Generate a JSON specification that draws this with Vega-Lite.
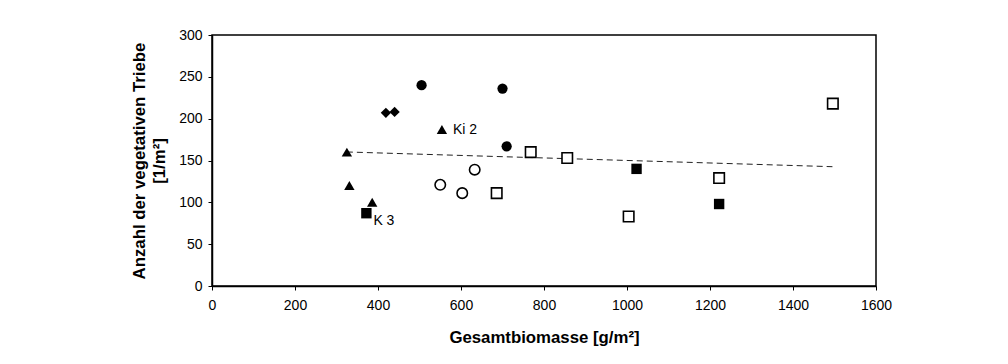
{
  "$schema": "https://vega.github.io/schema/vega-lite/v6.json",
  "width": 664,
  "height": 251,
  "autosize": "none",
  "padding": {"left": 212, "top": 35, "right": 132, "bottom": 78},
  "background": "white",
  "config": {
    "font": "Liberation Sans",
    "view": {"stroke": "black", "strokeWidth": 1.5},
    "axis": {
      "grid": false,
      "domainColor": "black",
      "domainWidth": 1.5,
      "tickColor": "black",
      "tickWidth": 1,
      "tickSize": 4,
      "labelFont": "Liberation Sans",
      "labelFontSize": 14,
      "labelColor": "black",
      "titleFont": "Liberation Sans",
      "titleFontSize": 16.8,
      "titleFontWeight": "bold",
      "titleColor": "black",
      "format": "d"
    }
  },
  "datasets": {
    "points": [
      {"group": "Gruppe 1", "biomasse": 505, "triebe": 240, "label": ""},
      {"group": "Gruppe 1", "biomasse": 700, "triebe": 236, "label": ""},
      {"group": "Gruppe 1", "biomasse": 710, "triebe": 167, "label": ""},
      {"group": "Gruppe 2", "biomasse": 419, "triebe": 207, "label": ""},
      {"group": "Gruppe 2", "biomasse": 440, "triebe": 208, "label": ""},
      {"group": "Gruppe 3", "biomasse": 325, "triebe": 160, "label": ""},
      {"group": "Gruppe 3", "biomasse": 331, "triebe": 120, "label": ""},
      {"group": "Gruppe 3", "biomasse": 386, "triebe": 100, "label": ""},
      {"group": "Gruppe 3", "biomasse": 554, "triebe": 187, "label": "Ki 2"},
      {"group": "Gruppe 4", "biomasse": 372, "triebe": 87, "label": "K 3"},
      {"group": "Gruppe 4", "biomasse": 1023, "triebe": 140, "label": ""},
      {"group": "Gruppe 4", "biomasse": 1222, "triebe": 98, "label": ""},
      {"group": "Gruppe 5", "biomasse": 550, "triebe": 121, "label": ""},
      {"group": "Gruppe 5", "biomasse": 603, "triebe": 111, "label": ""},
      {"group": "Gruppe 5", "biomasse": 633, "triebe": 139, "label": ""},
      {"group": "Gruppe 6", "biomasse": 686, "triebe": 111, "label": ""},
      {"group": "Gruppe 6", "biomasse": 768, "triebe": 160, "label": ""},
      {"group": "Gruppe 6", "biomasse": 856, "triebe": 153, "label": ""},
      {"group": "Gruppe 6", "biomasse": 1004, "triebe": 83, "label": ""},
      {"group": "Gruppe 6", "biomasse": 1222, "triebe": 129, "label": ""},
      {"group": "Gruppe 6", "biomasse": 1496, "triebe": 218, "label": ""}
    ],
    "trend": [
      {"biomasse": 325, "triebe": 160.2},
      {"biomasse": 1495, "triebe": 142.6}
    ]
  },
  "layer": [
    {
      "data": {"name": "trend"},
      "mark": {"type": "line", "color": "#222222", "strokeWidth": 1, "strokeDash": [6, 4]},
      "encoding": {
        "x": {
          "field": "biomasse", "type": "quantitative",
          "scale": {"domain": [0, 1600], "nice": false, "zero": false},
          "axis": {"title": "Gesamtbiomasse [g/m²]", "values": [0, 200, 400, 600, 800, 1000, 1200, 1400, 1600], "labelPadding": 8, "titlePadding": 17, "labelFlush": false}
        },
        "y": {
          "field": "triebe", "type": "quantitative",
          "scale": {"domain": [0, 300], "nice": false, "zero": false},
          "axis": {"title": ["Anzahl der vegetativen Triebe", "[1/m²]"], "values": [0, 50, 100, 150, 200, 250, 300], "labelPadding": 6, "titlePadding": 10, "titleLineHeight": 20, "labelFlush": false}
        }
      }
    },
    {
      "data": {"name": "points"},
      "transform": [{"filter": {"field": "group", "oneOf": ["Gruppe 1", "Gruppe 2", "Gruppe 3", "Gruppe 4"]}}],
      "mark": {"type": "point", "filled": true, "color": "black", "opacity": 1, "strokeWidth": 0},
      "encoding": {
        "x": {"field": "biomasse", "type": "quantitative"},
        "y": {"field": "triebe", "type": "quantitative"},
        "shape": {"field": "group", "type": "nominal", "legend": null,
          "scale": {"domain": ["Gruppe 1", "Gruppe 2", "Gruppe 3", "Gruppe 4", "Gruppe 5", "Gruppe 6"], "range": ["circle", "diamond", "triangle-up", "square", "circle", "square"]}},
        "size": {"field": "group", "type": "nominal", "legend": null,
          "scale": {"domain": ["Gruppe 1", "Gruppe 2", "Gruppe 3", "Gruppe 4", "Gruppe 5", "Gruppe 6"], "range": [105, 110, 135, 105, 48, 64]}}
      }
    },
    {
      "data": {"name": "points"},
      "transform": [{"filter": {"field": "group", "oneOf": ["Gruppe 5", "Gruppe 6"]}}],
      "mark": {"type": "point", "filled": false, "fill": "white", "stroke": "black", "strokeWidth": 1.6, "opacity": 1},
      "encoding": {
        "x": {"field": "biomasse", "type": "quantitative"},
        "y": {"field": "triebe", "type": "quantitative"},
        "shape": {"field": "group", "type": "nominal", "legend": null},
        "size": {"field": "group", "type": "nominal", "legend": null}
      }
    },
    {
      "data": {"name": "points"},
      "transform": [{"filter": "datum.label == 'Ki 2'"}],
      "mark": {"type": "text", "align": "left", "baseline": "middle", "dx": 11, "dy": 0, "fontSize": 14, "color": "black", "font": "Liberation Sans"},
      "encoding": {
        "x": {"field": "biomasse", "type": "quantitative"},
        "y": {"field": "triebe", "type": "quantitative"},
        "text": {"field": "label"}
      }
    },
    {
      "data": {"name": "points"},
      "transform": [{"filter": "datum.label == 'K 3'"}],
      "mark": {"type": "text", "align": "left", "baseline": "middle", "dx": 7, "dy": 8, "fontSize": 14, "color": "black", "font": "Liberation Sans"},
      "encoding": {
        "x": {"field": "biomasse", "type": "quantitative"},
        "y": {"field": "triebe", "type": "quantitative"},
        "text": {"field": "label"}
      }
    }
  ]
}
